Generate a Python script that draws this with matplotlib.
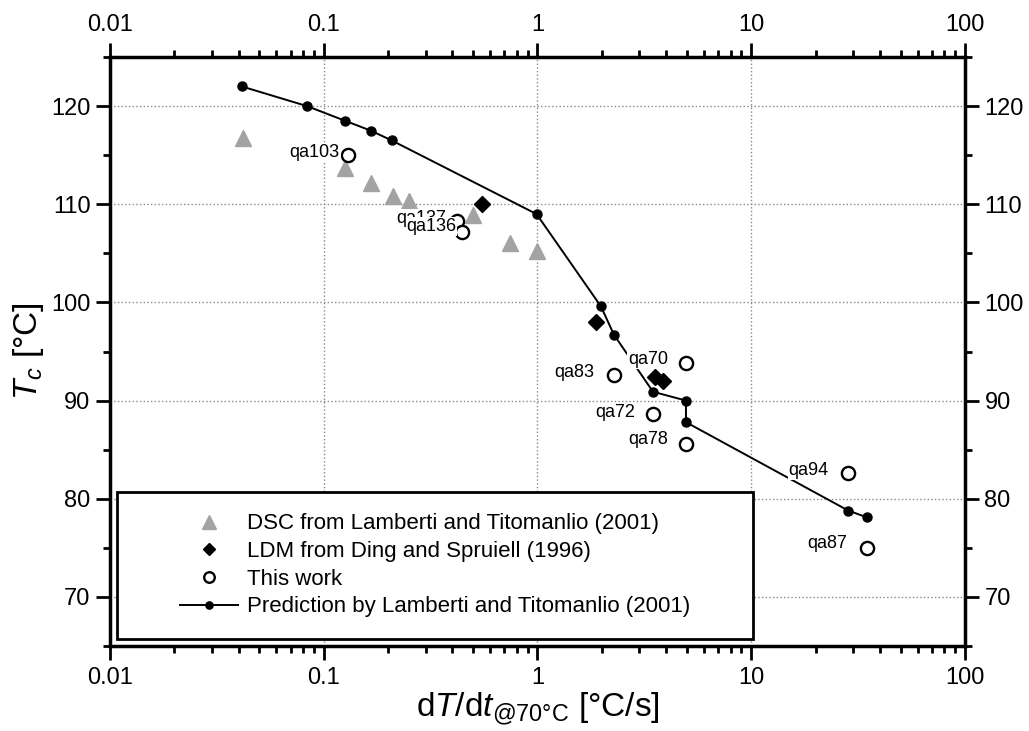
import matplotlib
matplotlib.use('Agg')
import matplotlib.pyplot as plt
from matplotlib.patches import Rectangle
from matplotlib.ticker import LogLocator, MultipleLocator, FuncFormatter, NullFormatter

plt.rcParams['font.family'] = ['Liberation Sans', 'DejaVu Sans']
plt.rcParams['mathtext.fontset'] = 'custom'
plt.rcParams['mathtext.rm'] = 'Liberation Sans'
plt.rcParams['mathtext.it'] = 'Liberation Sans:italic'

# DSC from Lamberti and Titomanlio (2001)
dsc_rate = [0.042, 0.126, 0.167, 0.21, 0.25, 0.50, 0.74, 1.0]
dsc_tc = [116.8, 113.7, 112.2, 110.8, 110.3, 108.9, 106.1, 105.2]

# LDM from Ding and Spruiell (1996)
ldm_rate = [0.55, 1.88, 3.55, 3.87]
ldm_tc = [110.0, 98.0, 92.4, 92.0]

# this work
work_names = ['qa103', 'qa137', 'qa136', 'qa83', 'qa70', 'qa72', 'qa78', 'qa94', 'qa87']
work_rate = [0.130, 0.42, 0.444, 2.28, 4.95, 3.47, 4.95, 28.4, 34.8]
work_tc = [115.0, 108.3, 107.2, 92.6, 93.8, 88.6, 85.6, 82.6, 75.0]

# prediction by Lamberti and Titomanlio (2001)
pred_rate = [0.0414, 0.0835, 0.126, 0.166, 0.208, 0.99, 1.98, 2.28, 3.47, 4.95, 4.95, 28.4, 34.8]
pred_tc = [122.0, 120.0, 118.5, 117.5, 116.5, 109.0, 99.6, 96.7, 90.9, 90.0, 87.8, 78.8, 78.1]

# label offsets in points (right edge of text relative to circle)
label_offsets = [(-6, 2), (-8, 2), (-4, 4), (-14, 2), (-13, 3), (-13, 1.5), (-13, 3), (-14, 2), (-14, 3)]

fig = plt.figure(figsize=(10.29, 7.31), dpi=100)
ax = fig.add_axes([0.1069, 0.1163, 0.8309, 0.8057])

h_dsc, = ax.plot(dsc_rate, dsc_tc, ls='none', marker='^', ms=12, mfc='#a3a3a3', mec='#a3a3a3',
                 zorder=3, label='DSC from Lamberti and Titomanlio (2001)')
h_pred, = ax.plot(pred_rate, pred_tc, '-', color='black', lw=1.4, marker='o', ms=6.5,
                  zorder=3, label='Prediction by Lamberti and Titomanlio (2001)')
h_ldm, = ax.plot(ldm_rate, ldm_tc, ls='none', marker='D', ms=8, color='black',
                 zorder=3, label='LDM from Ding and Spruiell (1996)')
h_work, = ax.plot(work_rate, work_tc, ls='none', marker='o', ms=9.5, mfc='white', mec='black',
                  mew=1.7, zorder=3, label='This work')

# sample labels; white boxes hide what lies under them, as in the original
for name, x, y, off in zip(work_names, work_rate, work_tc, label_offsets):
    ax.annotate(name, (x, y), xytext=off, textcoords='offset points', ha='right', va='center',
                fontsize=13, zorder=4,
                bbox=dict(boxstyle='square,pad=0.05', fc='white', ec='none'))

ax.set_xscale('log')
ax.set_xlim(0.01, 100)
ax.set_ylim(65, 125)

ax.xaxis.set_major_locator(LogLocator(base=10))
ax.xaxis.set_minor_locator(LogLocator(base=10, subs=range(2, 10)))
ax.xaxis.set_major_formatter(FuncFormatter(lambda v, _: f'{v:g}'))
ax.xaxis.set_minor_formatter(NullFormatter())
ax.yaxis.set_major_locator(MultipleLocator(10))
ax.yaxis.set_minor_locator(MultipleLocator(5))

ax.tick_params(which='both', direction='out', top=True, right=True,
               labeltop=True, labelright=True, width=2, labelsize=17)
ax.tick_params(which='major', length=10)
ax.tick_params(which='minor', length=5)
ax.tick_params(axis='x', pad=5)
ax.tick_params(axis='y', pad=4)
for s in ax.spines.values():
    s.set_linewidth(2.5)

ax.grid(which='major', linestyle=':', color='#888888', linewidth=1)
ax.set_axisbelow(True)

ax.set_xlabel(r'd$T$/d$t_{\mathrm{@70°C}}$ [°C/s]', fontsize=24)
ax.set_ylabel(r'$T_c$ [°C]', fontsize=24)
ax.xaxis.set_label_coords(0.5, -0.076)
ax.yaxis.set_label_coords(-0.075, 0.5)

# legend with its own frame
frame = Rectangle((0.0082, 0.0119), 0.7438, 0.2496, transform=ax.transAxes,
                  facecolor='white', edgecolor='black', lw=2, zorder=5)
ax.add_patch(frame)
leg = ax.legend([h_dsc, h_ldm, h_work, h_pred],
                [h_dsc.get_label(), h_ldm.get_label(), h_work.get_label(), h_pred.get_label()],
                loc='center', bbox_to_anchor=(0.380, 0.137), frameon=False, fontsize=16,
                handlelength=2.6, handletextpad=0.4, labelspacing=0.3, markerscale=0.8,
                numpoints=1)
leg.set_zorder(6)

fig.savefig('out.png', dpi=100)
